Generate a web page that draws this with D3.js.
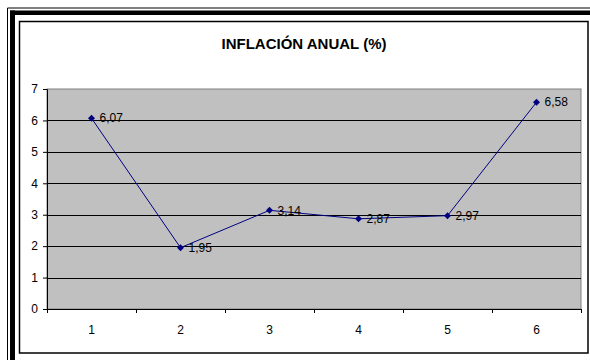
<!DOCTYPE html>
<html>
<head>
<meta charset="utf-8">
<script src="https://cdn.jsdelivr.net/npm/d3@7"></script>
<style>
  html, body { margin: 0; padding: 0; background: #fff; }
  svg { display: block; }
</style>
</head>
<body>
<svg id="chart" width="590" height="360"></svg>
<script>
// Annual inflation by period
const categories = ["1", "2", "3", "4", "5", "6"];
const inflation = [6.07, 1.95, 3.14, 2.87, 2.97, 6.58];
const yTicks = [0, 1, 2, 3, 4, 5, 6, 7];
const titleText = "INFLACIÓN ANUAL (%)";

const svg = d3.select("#chart");
const W = 590, H = 360;
const font = "'Liberation Sans', Arial, sans-serif";

// Decorative outer frame: thin + thick rule along the top and left edges
svg.append("line").attr("x1", 7.5).attr("x2", W).attr("y1", 8).attr("y2", 8)
  .attr("stroke", "#000").attr("stroke-width", 1);
svg.append("line").attr("x1", 7.5).attr("x2", 7.5).attr("y1", 8).attr("y2", H)
  .attr("stroke", "#000").attr("stroke-width", 1);
svg.append("rect").attr("x", 10).attr("y", 10.5).attr("width", W - 10).attr("height", 4.5).attr("fill", "#000");
svg.append("rect").attr("x", 10).attr("y", 10.5).attr("width", 5).attr("height", H - 10.5).attr("fill", "#000");

// Chart box
svg.append("rect").attr("x", 19.5).attr("y", 21.5).attr("width", 568.5).attr("height", 331.5)
  .attr("fill", "#fff").attr("stroke", "#000").attr("stroke-width", 1.5);

// Plot area
const plot = { left: 47, right: 581, top: 89, bottom: 309 };

const x = d3.scaleBand().domain(categories).range([plot.left, plot.right]).padding(0);
const y = d3.scaleLinear().domain([0, 7]).range([plot.bottom, plot.top]);

svg.append("rect")
  .attr("x", plot.left).attr("y", plot.top)
  .attr("width", plot.right - plot.left).attr("height", plot.bottom - plot.top)
  .attr("fill", "#c0c0c0").attr("stroke", "#808080").attr("stroke-width", 1);

// Horizontal gridlines
svg.append("g").selectAll("line")
  .data(yTicks.filter(d => d > 0 && d < 7))
  .join("line")
  .attr("x1", plot.left).attr("x2", plot.right)
  .attr("y1", d => Math.round(y(d)) + 0.5).attr("y2", d => Math.round(y(d)) + 0.5)
  .attr("stroke", "#000").attr("stroke-width", 1);

// Y axis
const yAxis = d3.axisLeft(y).tickValues(yTicks).tickSize(4).tickPadding(5).tickFormat(d3.format("d"));
const gy = svg.append("g").attr("transform", `translate(${plot.left},0)`).call(yAxis);
gy.select(".domain").attr("stroke", "#000");
gy.selectAll(".tick line").attr("stroke", "#000");
gy.selectAll(".tick text").attr("font-family", font).attr("font-size", 12).attr("fill", "#000");

// X axis: ticks on category boundaries, labels in the middle
const gx = svg.append("g").attr("transform", `translate(0,${plot.bottom})`);
gx.append("line").attr("x1", plot.left).attr("x2", plot.right).attr("y1", 0.5).attr("y2", 0.5)
  .attr("stroke", "#000");
const bounds = categories.map(c => x(c)).concat([x(categories[categories.length - 1]) + x.bandwidth()]);
gx.selectAll(".bt").data(bounds).join("line").attr("class", "bt")
  .attr("x1", d => Math.round(d) + 0.5).attr("x2", d => Math.round(d) + 0.5)
  .attr("y1", 0).attr("y2", 4).attr("stroke", "#000");
gx.selectAll("text").data(categories).join("text")
  .attr("x", d => x(d) + x.bandwidth() / 2).attr("y", 25)
  .attr("text-anchor", "middle")
  .attr("font-family", font).attr("font-size", 12).attr("fill", "#000")
  .text(d => d);

// Line series
const pts = categories.map((c, i) => ({ c, v: inflation[i] }));
const line = d3.line().x(d => x(d.c) + x.bandwidth() / 2).y(d => y(d.v));
svg.append("path").datum(pts).attr("d", line)
  .attr("fill", "none").attr("stroke", "#000080").attr("stroke-width", 1);

// Diamond markers
svg.append("g").selectAll("path").data(pts).join("path")
  .attr("transform", d => `translate(${x(d.c) + x.bandwidth() / 2},${y(d.v)})`)
  .attr("d", "M0,-3.5L3.5,0L0,3.5L-3.5,0Z")
  .attr("fill", "#000080");

// Value labels
const fmt = v => v.toFixed(2).replace(".", ",");
svg.append("g").selectAll("text").data(pts).join("text")
  .attr("x", d => x(d.c) + x.bandwidth() / 2 + 8)
  .attr("y", d => y(d.v))
  .attr("dy", "0.35em")
  .attr("font-family", font).attr("font-size", 12).attr("fill", "#000")
  .text(d => fmt(d.v));

// Title
svg.append("text")
  .attr("x", 304).attr("y", 49)
  .attr("text-anchor", "middle")
  .attr("font-family", font).attr("font-size", 15).attr("font-weight", "bold").attr("fill", "#000")
  .text(titleText);
</script>
</body>
</html>
